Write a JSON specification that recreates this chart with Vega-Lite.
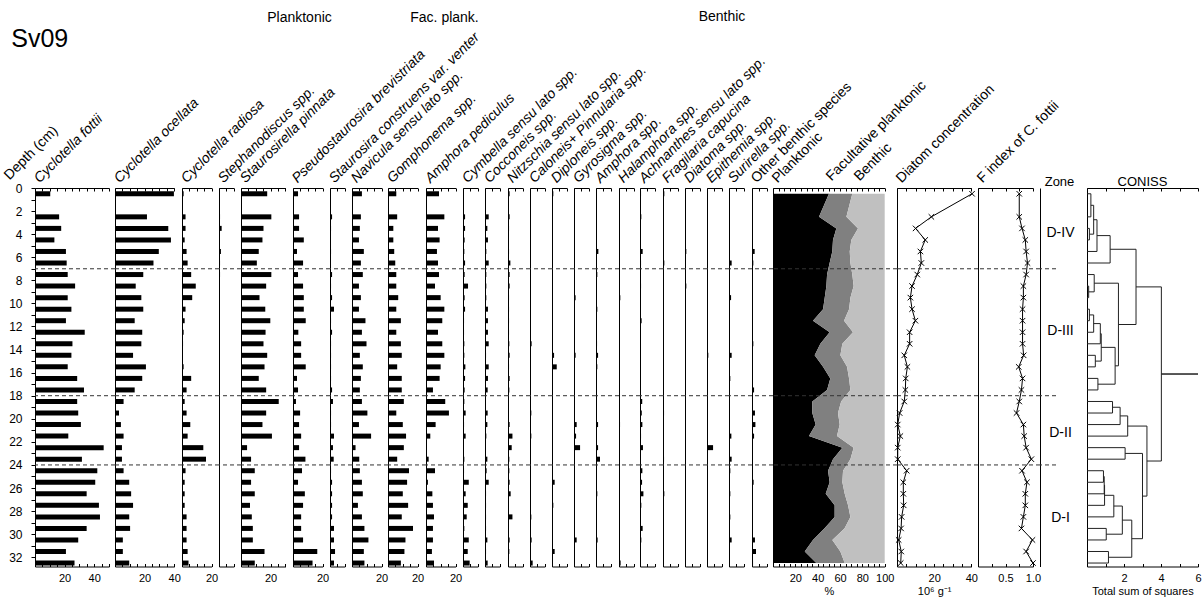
{
"$schema": "https://vega.github.io/schema/vega-lite/v6.json",
"padding": {"left": 1, "top": 9, "right": 0, "bottom": 0},
"bounds": "flush",
"spacing": 0,
"data": {"name": "d"},
"datasets": {
"d": [
{"depth":0.5,"Cf":10.3,"Co":39.8,"Cr":1.1,"St":0,"Sp":17.7,"Pb":3.4,"Sc":0,"Na":6.7,"Go":5.6,"Ap":8.8,"Cy":0,"Cc":0,"Ni":1.1,"Ca":0,"Di":0.9,"Gy":0,"Am":0,"Ha":0,"Ac":0.7,"Fr":0.9,"Dt":0,"Ep":0,"Su":0,"Ob":0,"Planktonic":50.1,"Facultative planktonic":20.9,"Benthic":29,"conc":40.4,"Fi":0.75},
{"depth":2.5,"Cf":16.3,"Co":21.6,"Cr":2.4,"St":0.7,"Sp":20.5,"Pb":4.1,"Sc":1.4,"Na":6,"Go":6.2,"Ap":12.4,"Cy":1.4,"Cc":2.5,"Ni":1.1,"Ca":0,"Di":0.5,"Gy":0.5,"Am":0.5,"Ha":0.5,"Ac":0.9,"Fr":0,"Dt":0,"Ep":0.5,"Su":0,"Ob":0,"Planktonic":41.2,"Facultative planktonic":24.5,"Benthic":34.3,"conc":18.5,"Fi":0.75},
{"depth":3.5,"Cf":17.7,"Co":36,"Cr":2.4,"St":1.8,"Sp":15.2,"Pb":4.1,"Sc":0.7,"Na":5.3,"Go":3.6,"Ap":8.1,"Cy":1.4,"Cc":1.6,"Ni":0.7,"Ca":0,"Di":0,"Gy":0.5,"Am":0.5,"Ha":0,"Ac":0,"Fr":0.5,"Dt":0,"Ep":0.5,"Su":0,"Ob":0,"Planktonic":56.7,"Facultative planktonic":19.4,"Benthic":23.9,"conc":10,"Fi":0.8},
{"depth":4.5,"Cf":13.1,"Co":37.8,"Cr":1.8,"St":0,"Sp":14.5,"Pb":7.3,"Sc":0,"Na":4.7,"Go":3.6,"Ap":9.2,"Cy":1.1,"Cc":2,"Ni":0.5,"Ca":0,"Di":0.5,"Gy":0.5,"Am":0.5,"Ha":0.5,"Ac":0,"Fr":0.5,"Dt":0,"Ep":0.5,"Su":0,"Ob":0.5,"Planktonic":53.7,"Facultative planktonic":16.4,"Benthic":29.9,"conc":15.2,"Fi":0.86},
{"depth":5.5,"Cf":20.9,"Co":29.6,"Cr":3.1,"St":1.3,"Sp":12,"Pb":2.7,"Sc":0.7,"Na":8,"Go":4.2,"Ap":7.4,"Cy":0.9,"Cc":0.9,"Ni":0.7,"Ca":0.5,"Di":0,"Gy":0.5,"Am":1.6,"Ha":0,"Ac":1.8,"Fr":0.5,"Dt":0.9,"Ep":0.5,"Su":0.5,"Ob":1.8,"Planktonic":53.1,"Facultative planktonic":15.6,"Benthic":31.3,"conc":12.6,"Fi":0.875},
{"depth":6.5,"Cf":21.4,"Co":26,"Cr":3.8,"St":0.7,"Sp":10.7,"Pb":6.8,"Sc":0,"Na":6,"Go":4.9,"Ap":8.1,"Cy":1.4,"Cc":2.5,"Ni":1.6,"Ca":0.5,"Di":0,"Gy":0.5,"Am":0.5,"Ha":0,"Ac":0.7,"Fr":0.9,"Dt":0.5,"Ep":0.5,"Su":1.8,"Ob":0.9,"Planktonic":50.7,"Facultative planktonic":18.6,"Benthic":30.7,"conc":13.1,"Fi":0.9},
{"depth":7.5,"Cf":22.1,"Co":19.1,"Cr":6.2,"St":0.7,"Sp":20.5,"Pb":3.4,"Sc":1.4,"Na":7.3,"Go":5.6,"Ap":8.8,"Cy":1.1,"Cc":0.9,"Ni":1.1,"Ca":0.5,"Di":0,"Gy":0,"Am":0.9,"Ha":0,"Ac":0,"Fr":0.5,"Dt":0,"Ep":0.5,"Su":0,"Ob":0.5,"Planktonic":48.4,"Facultative planktonic":22.6,"Benthic":29,"conc":10.9,"Fi":0.875},
{"depth":8.5,"Cf":27.1,"Co":14,"Cr":9.3,"St":0,"Sp":17,"Pb":6.8,"Sc":0.7,"Na":4.7,"Go":5.6,"Ap":6.1,"Cy":3.4,"Cc":0.9,"Ni":1.1,"Ca":0.5,"Di":0,"Gy":0,"Am":0.5,"Ha":0,"Ac":0.7,"Fr":0.5,"Dt":0.9,"Ep":0,"Su":0.5,"Ob":0.5,"Planktonic":47.8,"Facultative planktonic":24.4,"Benthic":27.8,"conc":8.1,"Fi":0.825},
{"depth":9.5,"Cf":22.1,"Co":17.8,"Cr":6.9,"St":0,"Sp":12.5,"Pb":7.3,"Sc":1.4,"Na":6,"Go":6.9,"Ap":9.9,"Cy":1.1,"Cc":0.9,"Ni":0.7,"Ca":0.5,"Di":0,"Gy":1.1,"Am":0.5,"Ha":0.9,"Ac":0,"Fr":0.5,"Dt":0.5,"Ep":0.5,"Su":1.4,"Ob":0.5,"Planktonic":46.3,"Facultative planktonic":23,"Benthic":30.7,"conc":7.2,"Fi":0.825},
{"depth":10.5,"Cf":24.6,"Co":19.1,"Cr":2.4,"St":0,"Sp":16.4,"Pb":7.3,"Sc":2.7,"Na":4.7,"Go":5.6,"Ap":12.4,"Cy":1.4,"Cc":2,"Ni":0.7,"Ca":0.5,"Di":0,"Gy":0.5,"Am":0.9,"Ha":0,"Ac":0,"Fr":0.5,"Dt":0,"Ep":0.5,"Su":0.5,"Ob":0.5,"Planktonic":44.8,"Facultative planktonic":23.3,"Benthic":31.9,"conc":8.1,"Fi":0.81},
{"depth":11.5,"Cf":20.9,"Co":13.3,"Cr":1.8,"St":0,"Sp":19.8,"Pb":8.6,"Sc":0.7,"Na":9.1,"Go":8.7,"Ap":11,"Cy":0.7,"Cc":2,"Ni":0.7,"Ca":0.5,"Di":0.5,"Gy":0.5,"Am":0.5,"Ha":0,"Ac":1.1,"Fr":0.5,"Dt":0,"Ep":0.5,"Su":0.5,"Ob":0.5,"Planktonic":35.8,"Facultative planktonic":27.8,"Benthic":36.4,"conc":9.9,"Fi":0.81},
{"depth":12.5,"Cf":33.6,"Co":18.4,"Cr":1.1,"St":0,"Sp":16.6,"Pb":3.6,"Sc":1.4,"Na":6.7,"Go":5.6,"Ap":8.1,"Cy":0.7,"Cc":2,"Ni":0.7,"Ca":0.5,"Di":0.5,"Gy":0,"Am":0.5,"Ha":0,"Ac":0,"Fr":0.5,"Dt":0,"Ep":0,"Su":0,"Ob":0,"Planktonic":50.7,"Facultative planktonic":20.9,"Benthic":28.4,"conc":6.8,"Fi":0.81},
{"depth":13.5,"Cf":25.3,"Co":17.8,"Cr":0.7,"St":0,"Sp":15.2,"Pb":5.5,"Sc":0.7,"Na":9.8,"Go":8.7,"Ap":11,"Cy":0.9,"Cc":2.5,"Ni":0.9,"Ca":1.1,"Di":0,"Gy":0,"Am":0.7,"Ha":0.3,"Ac":0,"Fr":0,"Dt":0,"Ep":0,"Su":0.5,"Ob":0.9,"Planktonic":42.4,"Facultative planktonic":19.7,"Benthic":37.9,"conc":6.8,"Fi":0.81},
{"depth":14.5,"Cf":24.6,"Co":12.2,"Cr":0.4,"St":0.5,"Sp":17.7,"Pb":5.5,"Sc":0.7,"Na":5.3,"Go":9.3,"Ap":12.4,"Cy":0.9,"Cc":0.7,"Ni":1.1,"Ca":0.5,"Di":1.4,"Gy":1.1,"Am":1.4,"Ha":0,"Ac":0.5,"Fr":0,"Dt":0.5,"Ep":0.9,"Su":1.8,"Ob":0,"Planktonic":37.3,"Facultative planktonic":23,"Benthic":39.7,"conc":3.9,"Fi":0.83},
{"depth":15.5,"Cf":22.1,"Co":20.9,"Cr":1.1,"St":0,"Sp":15.9,"Pb":8.6,"Sc":0.7,"Na":7.3,"Go":6.2,"Ap":9.9,"Cy":1.6,"Cc":2.5,"Ni":0.7,"Ca":0.5,"Di":3.2,"Gy":0.5,"Am":0.9,"Ha":0,"Ac":0.5,"Fr":0,"Dt":0.5,"Ep":0,"Su":0.5,"Ob":0,"Planktonic":44.8,"Facultative planktonic":21.5,"Benthic":33.7,"conc":5.6,"Fi":0.74},
{"depth":16.5,"Cf":28.5,"Co":18.4,"Cr":6.2,"St":0,"Sp":12,"Pb":2.7,"Sc":0.7,"Na":6,"Go":9.3,"Ap":9.2,"Cy":1.4,"Cc":2,"Ni":1.1,"Ca":0.5,"Di":0,"Gy":0.5,"Am":0.5,"Ha":0,"Ac":0.5,"Fr":0,"Dt":0.5,"Ep":0,"Su":0.9,"Ob":0.5,"Planktonic":51.3,"Facultative planktonic":16.8,"Benthic":31.9,"conc":4.7,"Fi":0.81},
{"depth":17.5,"Cf":33.1,"Co":13.3,"Cr":3.1,"St":0.5,"Sp":17,"Pb":3.4,"Sc":1.4,"Na":5.3,"Go":9.3,"Ap":4.7,"Cy":1.1,"Cc":1.8,"Ni":0.9,"Ca":0.5,"Di":0,"Gy":0.5,"Am":0.5,"Ha":0,"Ac":0.5,"Fr":0,"Dt":0,"Ep":0.5,"Su":0.5,"Ob":1.4,"Planktonic":48.4,"Facultative planktonic":20.9,"Benthic":30.7,"conc":4.5,"Fi":0.79},
{"depth":18.5,"Cf":28.5,"Co":5.8,"Cr":1.8,"St":0.5,"Sp":25.5,"Pb":2,"Sc":2,"Na":6.7,"Go":10.7,"Ap":13,"Cy":0.9,"Cc":0,"Ni":0,"Ca":0,"Di":0,"Gy":0.5,"Am":0.5,"Ha":0,"Ac":1.5,"Fr":0.5,"Dt":0,"Ep":0,"Su":0.5,"Ob":0.5,"Planktonic":35.2,"Facultative planktonic":25.8,"Benthic":39,"conc":3.9,"Fi":0.75},
{"depth":19.5,"Cf":29.2,"Co":2.7,"Cr":3.1,"St":0.5,"Sp":17,"Pb":4.8,"Sc":0.7,"Na":10.4,"Go":5.6,"Ap":15.5,"Cy":1.8,"Cc":1.8,"Ni":0.5,"Ca":0.9,"Di":0,"Gy":0.5,"Am":0.5,"Ha":0,"Ac":1.2,"Fr":0.7,"Dt":0,"Ep":0,"Su":0.5,"Ob":2,"Planktonic":35.2,"Facultative planktonic":23,"Benthic":41.8,"conc":1.4,"Fi":0.7},
{"depth":20.5,"Cf":31,"Co":4,"Cr":5.6,"St":0,"Sp":14.5,"Pb":4.1,"Sc":0.7,"Na":4.7,"Go":10,"Ap":6.5,"Cy":0.7,"Cc":1.6,"Ni":1.1,"Ca":0.5,"Di":0.5,"Gy":1.8,"Am":1.4,"Ha":0.7,"Ac":1.6,"Fr":0.5,"Dt":0.5,"Ep":0.5,"Su":0.5,"Ob":2.3,"Planktonic":38.2,"Facultative planktonic":21.5,"Benthic":40.3,"conc":0.4,"Fi":0.825},
{"depth":21.5,"Cf":22.5,"Co":5.8,"Cr":3.8,"St":0,"Sp":20.9,"Pb":5.5,"Sc":2.7,"Na":12.9,"Go":12.2,"Ap":2.9,"Cy":1.8,"Cc":0.9,"Ni":3,"Ca":0.9,"Di":0.5,"Gy":1.4,"Am":0.5,"Ha":0.3,"Ac":0.7,"Fr":0,"Dt":0.5,"Ep":0.5,"Su":1.6,"Ob":1.4,"Planktonic":32.2,"Facultative planktonic":25.1,"Benthic":42.7,"conc":1.8,"Fi":0.84},
{"depth":22.5,"Cf":46.4,"Co":4.7,"Cr":14.4,"St":0,"Sp":4.1,"Pb":4.1,"Sc":2,"Na":2.4,"Go":10.7,"Ap":0,"Cy":0,"Cc":0,"Ni":2.5,"Ca":0,"Di":0,"Gy":4.1,"Am":1.4,"Ha":0,"Ac":2,"Fr":0,"Dt":0,"Ep":4.1,"Su":0,"Ob":0,"Planktonic":62.1,"Facultative planktonic":10.1,"Benthic":27.8,"conc":0.4,"Fi":0.875},
{"depth":23.5,"Cf":31.7,"Co":4.7,"Cr":16.2,"St":0,"Sp":6.8,"Pb":8.4,"Sc":2.5,"Na":4.9,"Go":6.2,"Ap":1.8,"Cy":0.9,"Cc":1.6,"Ni":0.9,"Ca":0.5,"Di":0,"Gy":0.5,"Am":2.7,"Ha":0,"Ac":0.5,"Fr":0.7,"Dt":0.5,"Ep":0.5,"Su":1.8,"Ob":0.5,"Planktonic":53.7,"Facultative planktonic":15.6,"Benthic":30.7,"conc":0.4,"Fi":0.97},
{"depth":24.5,"Cf":42.1,"Co":5.8,"Cr":2.4,"St":0,"Sp":9.3,"Pb":6.1,"Sc":0.7,"Na":5.3,"Go":14.2,"Ap":6.1,"Cy":0.7,"Cc":1.1,"Ni":0.9,"Ca":0.5,"Di":0,"Gy":0.5,"Am":0.5,"Ha":0,"Ac":1.6,"Fr":0.5,"Dt":0,"Ep":0,"Su":0.9,"Ob":0.5,"Planktonic":49.3,"Facultative planktonic":13.4,"Benthic":37.3,"conc":5.2,"Fi":0.8},
{"depth":25.5,"Cf":40.7,"Co":9.6,"Cr":1.8,"St":0,"Sp":6.8,"Pb":3.4,"Sc":1.4,"Na":6.7,"Go":12.9,"Ap":1.3,"Cy":3.9,"Cc":2.5,"Ni":1.1,"Ca":0,"Di":1.8,"Gy":0.5,"Am":0.5,"Ha":0,"Ac":1.4,"Fr":0.5,"Dt":0,"Ep":0.5,"Su":0.5,"Ob":1.1,"Planktonic":50.7,"Facultative planktonic":11.4,"Benthic":37.9,"conc":3.4,"Fi":0.89},
{"depth":26.5,"Cf":34.9,"Co":10.9,"Cr":1.8,"St":0,"Sp":9.3,"Pb":8,"Sc":1.4,"Na":7.3,"Go":10,"Ap":4.3,"Cy":1.8,"Cc":0.7,"Ni":1.8,"Ca":0,"Di":0,"Gy":0.5,"Am":0.9,"Ha":0,"Ac":2.3,"Fr":0.9,"Dt":0,"Ep":0,"Su":0.9,"Ob":0.5,"Planktonic":47.2,"Facultative planktonic":17,"Benthic":35.8,"conc":3.4,"Fi":0.86},
{"depth":27.5,"Cf":43.2,"Co":12.2,"Cr":1.8,"St":0,"Sp":6.1,"Pb":6.8,"Sc":1.4,"Na":4,"Go":13.6,"Ap":4.7,"Cy":3.2,"Cc":0.7,"Ni":0.5,"Ca":0,"Di":0.9,"Gy":0.5,"Am":0.5,"Ha":0,"Ac":0.9,"Fr":0.5,"Dt":0,"Ep":0.5,"Su":0,"Ob":0.5,"Planktonic":55.2,"Facultative planktonic":12,"Benthic":32.8,"conc":3.6,"Fi":0.86},
{"depth":28.5,"Cf":43.9,"Co":9.6,"Cr":3.1,"St":0,"Sp":7.3,"Pb":5.5,"Sc":1.4,"Na":6.7,"Go":9.3,"Ap":5.4,"Cy":2.5,"Cc":0.7,"Ni":3,"Ca":0.9,"Di":0,"Gy":0.5,"Am":0.5,"Ha":0,"Ac":0.5,"Fr":0.5,"Dt":0,"Ep":0,"Su":0.9,"Ob":0.5,"Planktonic":55.2,"Facultative planktonic":14.1,"Benthic":30.7,"conc":2.5,"Fi":0.825},
{"depth":29.5,"Cf":34.9,"Co":10.2,"Cr":3.1,"St":0,"Sp":8,"Pb":5.5,"Sc":2.7,"Na":8.4,"Go":16.9,"Ap":4.7,"Cy":0.9,"Cc":0.7,"Ni":0.5,"Ca":0,"Di":0,"Gy":0.5,"Am":0.5,"Ha":0,"Ac":1.8,"Fr":0.5,"Dt":0,"Ep":0,"Su":0.5,"Ob":0.5,"Planktonic":46,"Facultative planktonic":18,"Benthic":36,"conc":2.2,"Fi":0.79},
{"depth":30.5,"Cf":29.2,"Co":5.3,"Cr":3.1,"St":0,"Sp":8,"Pb":6.8,"Sc":2.7,"Na":11.1,"Go":11.8,"Ap":4.7,"Cy":3.9,"Cc":1.6,"Ni":1.1,"Ca":1.1,"Di":0.5,"Gy":1.8,"Am":1.1,"Ha":0,"Ac":0.9,"Fr":0.5,"Dt":0,"Ep":0,"Su":1.8,"Ob":2,"Planktonic":35.8,"Facultative planktonic":17.3,"Benthic":46.9,"conc":0.9,"Fi":0.99},
{"depth":31.5,"Cf":20.9,"Co":5.3,"Cr":3.8,"St":0,"Sp":15.9,"Pb":16.4,"Sc":3.4,"Na":8,"Go":11.1,"Ap":4,"Cy":3.2,"Cc":0.7,"Ni":0.9,"Ca":0,"Di":1.8,"Gy":0.5,"Am":0.5,"Ha":0.3,"Ac":0.5,"Fr":0.5,"Dt":0,"Ep":0,"Su":0,"Ob":2.7,"Planktonic":28.4,"Facultative planktonic":31.9,"Benthic":39.7,"conc":2.3,"Fi":0.875},
{"depth":32.5,"Cf":26.7,"Co":9.6,"Cr":4.4,"St":0,"Sp":9.3,"Pb":13.2,"Sc":2.7,"Na":8.4,"Go":8.7,"Ap":5.4,"Cy":4.5,"Cc":1.8,"Ni":0,"Ca":1.8,"Di":0,"Gy":0.5,"Am":0.5,"Ha":1.1,"Ac":0.5,"Fr":0.5,"Dt":0,"Ep":0.5,"Su":0,"Ob":0.7,"Planktonic":38.8,"Facultative planktonic":25.4,"Benthic":35.8,"conc":2,"Fi":1.0}
],
"zones": [{"depth":7},{"depth":18},{"depth":24}],
"zonelabels": [{"zone":"D-IV","depth":3.9},{"zone":"D-III","depth":12.4},{"zone":"D-II","depth":21.2},{"zone":"D-I","depth":28.6}],
"coniss": [
{"h":0.21,"p1":0.5,"p2":2.5,"h1":0,"h2":0},
{"h":0.13,"p1":3.5,"p2":4.5,"h1":0,"h2":0},
{"h":0.36,"p1":1.5,"p2":4.0,"h1":0.21,"h2":0.13},
{"h":0.54,"p1":2.75,"p2":5.5,"h1":0.36,"h2":0},
{"h":1.25,"p1":4.125,"p2":6.5,"h1":0.54,"h2":0},
{"h":0.09,"p1":8.5,"p2":9.5,"h1":0,"h2":0},
{"h":0.39,"p1":7.5,"p2":9.0,"h1":0,"h2":0.09},
{"h":0.13,"p1":10.5,"p2":11.5,"h1":0,"h2":0},
{"h":0.36,"p1":11.0,"p2":12.5,"h1":0.13,"h2":0},
{"h":0.72,"p1":11.75,"p2":13.5,"h1":0.36,"h2":0},
{"h":0.45,"p1":14.5,"p2":15.5,"h1":0,"h2":0},
{"h":0.77,"p1":12.625,"p2":15.0,"h1":0.72,"h2":0.45},
{"h":0.59,"p1":16.5,"p2":17.5,"h1":0,"h2":0},
{"h":1.52,"p1":13.81,"p2":17.0,"h1":0.77,"h2":0.59},
{"h":1.7,"p1":8.25,"p2":15.41,"h1":0.39,"h2":1.52},
{"h":2.65,"p1":5.31,"p2":11.83,"h1":1.25,"h2":1.7},
{"h":1.38,"p1":18.5,"p2":19.5,"h1":0,"h2":0},
{"h":1.79,"p1":19.0,"p2":20.5,"h1":1.38,"h2":0},
{"h":2.2,"p1":19.75,"p2":21.5,"h1":1.79,"h2":0},
{"h":2.06,"p1":22.5,"p2":23.5,"h1":0,"h2":0},
{"h":0.89,"p1":24.5,"p2":25.5,"h1":0,"h2":0},
{"h":0.93,"p1":25.0,"p2":26.5,"h1":0.89,"h2":0},
{"h":0.95,"p1":25.75,"p2":27.5,"h1":0.93,"h2":0},
{"h":1.45,"p1":26.63,"p2":28.5,"h1":0.95,"h2":0},
{"h":1.04,"p1":29.5,"p2":30.5,"h1":0,"h2":0},
{"h":1.91,"p1":27.56,"p2":30.0,"h1":1.45,"h2":1.04},
{"h":1.16,"p1":31.5,"p2":32.5,"h1":0,"h2":0},
{"h":2.42,"p1":28.78,"p2":32.0,"h1":1.91,"h2":1.16},
{"h":3.0,"p1":23.0,"p2":30.39,"h1":2.06,"h2":2.42},
{"h":3.24,"p1":20.63,"p2":26.7,"h1":2.2,"h2":3.0},
{"h":4.02,"p1":8.57,"p2":23.66,"h1":2.65,"h2":3.24},
{"h":6.0,"p1":16.12,"p2":16.12,"h1":4.02,"h2":4.02}
]
},
"hconcat": [
{"width":80,"height":378.5,
 "title":{"text":"Sv09","anchor":"start","frame":"bounds","fontSize":25,"dx":10,"dy":-55},
 "encoding":{"y":{"field":"depth","type":"quantitative","title":null,"scale":{"domain":[0,32.8],"reverse":true,"nice":false,"zero":false,"padding":0},
   "axis":{"title":"Depth (cm)","labels":true,"ticks":true,"tickSize":4,"labelPadding":9,"values":[0,1,2,3,4,5,6,7,8,9,10,11,12,13,14,15,16,17,18,19,20,21,22,23,24,25,26,27,28,29,30,31,32],"labelExpr":"datum.value % 2 == 0 ? datum.label : ''","labelFontSize":12,"titleAngle":-45,"titleAlign":"left","titleBaseline":"alphabetic","titleX":-26,"titleY":-8,"titleFontSize":14}}},
 "layer":[
  {"mark":{"type":"bar","orient":"horizontal","size":5,"color":"#000"},
   "encoding":{"x":{"field":"Cf","type":"quantitative","title":null,"scale":{"domain":[0,50],"range":[0,74]},"axis":{"orient":"bottom","values":[0,5,10,15,20,25,30,35,40,45,50]}}}},
  {"transform":[{"filter":"false"}],"mark":{"type":"bar","orient":"horizontal"},
   "encoding":{"x":{"field":"Cf","type":"quantitative","axis":{"orient":"top","title":"Cyclotella fottii","values":[0,5,10,15,20,25,30,35,40,45,50]}}}},
  {"data":{"name":"zones"},"mark":{"type":"rule","strokeDash":[4,3],"color":"#333"},"encoding":{}}
 ],
 "resolve":{"axis":{"x":"independent"}}},
{"width":67,"height":378.5,
 "encoding":{"y":{"field":"depth","type":"quantitative","title":null,"scale":{"domain":[0,32.8],"reverse":true,"nice":false,"zero":false,"padding":0}}},
 "layer":[
  {"mark":{"type":"bar","orient":"horizontal","size":5,"color":"#000"},
   "encoding":{"x":{"field":"Co","type":"quantitative","title":null,"scale":{"domain":[0,40],"range":[0,59.2]},"axis":{"orient":"bottom","values":[0,5,10,15,20,25,30,35,40]}}}},
  {"transform":[{"filter":"false"}],"mark":{"type":"bar","orient":"horizontal"},
   "encoding":{"x":{"field":"Co","type":"quantitative","axis":{"orient":"top","title":"Cyclotella ocellata","values":[0,5,10,15,20,25,30,35,40]}}}},
  {"data":{"name":"zones"},"mark":{"type":"rule","strokeDash":[4,3],"color":"#333"},"encoding":{}}
 ],
 "resolve":{"axis":{"x":"independent"}}},
{"width":37,"height":378.5,
 "encoding":{"y":{"field":"depth","type":"quantitative","title":null,"scale":{"domain":[0,32.8],"reverse":true,"nice":false,"zero":false,"padding":0}}},
 "layer":[
  {"mark":{"type":"bar","orient":"horizontal","size":5,"color":"#000"},
   "encoding":{"x":{"field":"Cr","type":"quantitative","title":null,"scale":{"domain":[0,20],"range":[0,29.6]},"axis":{"orient":"bottom","values":[0,5,10,15,20]}}}},
  {"transform":[{"filter":"false"}],"mark":{"type":"bar","orient":"horizontal"},
   "encoding":{"x":{"field":"Cr","type":"quantitative","axis":{"orient":"top","title":"Cyclotella radiosa","values":[0,5,10,15,20]}}}},
  {"data":{"name":"zones"},"mark":{"type":"rule","strokeDash":[4,3],"color":"#333"},"encoding":{}}
 ],
 "resolve":{"axis":{"x":"independent"}}},
{"width":22,"height":378.5,
 "encoding":{"y":{"field":"depth","type":"quantitative","title":null,"scale":{"domain":[0,32.8],"reverse":true,"nice":false,"zero":false,"padding":0}}},
 "layer":[
  {"mark":{"type":"bar","orient":"horizontal","size":5,"color":"#000"},
   "encoding":{"x":{"field":"St","type":"quantitative","title":null,"scale":{"domain":[0,10],"range":[0,14.8]},"axis":{"orient":"bottom","values":[0,5,10]}}}},
  {"transform":[{"filter":"false"}],"mark":{"type":"bar","orient":"horizontal"},
   "encoding":{"x":{"field":"St","type":"quantitative","axis":{"orient":"top","title":"Stephanodiscus spp.","values":[0,5,10]}}}},
  {"data":{"name":"zones"},"mark":{"type":"rule","strokeDash":[4,3],"color":"#333"},"encoding":{}}
 ],
 "resolve":{"axis":{"x":"independent"}}},
{"width":52,"height":378.5,
 "encoding":{"y":{"field":"depth","type":"quantitative","title":null,"scale":{"domain":[0,32.8],"reverse":true,"nice":false,"zero":false,"padding":0}}},
 "layer":[
  {"mark":{"type":"bar","orient":"horizontal","size":5,"color":"#000"},
   "encoding":{"x":{"field":"Sp","type":"quantitative","title":null,"scale":{"domain":[0,30],"range":[0,44.4]},"axis":{"orient":"bottom","values":[0,5,10,15,20,25,30]}}}},
  {"transform":[{"filter":"false"}],"mark":{"type":"bar","orient":"horizontal"},
   "encoding":{"x":{"field":"Sp","type":"quantitative","axis":{"orient":"top","title":"Staurosirella pinnata","values":[0,5,10,15,20,25,30]}}}},
  {"data":{"name":"zones"},"mark":{"type":"rule","strokeDash":[4,3],"color":"#333"},"encoding":{}}
 ],
 "resolve":{"axis":{"x":"independent"}}},
{"width":37,"height":378.5,
 "title":{"text":"Planktonic","anchor":"middle","frame":"group","fontSize":14,"dx":-12,"dy":-18},
 "encoding":{"y":{"field":"depth","type":"quantitative","title":null,"scale":{"domain":[0,32.8],"reverse":true,"nice":false,"zero":false,"padding":0}}},
 "layer":[
  {"mark":{"type":"bar","orient":"horizontal","size":5,"color":"#000"},
   "encoding":{"x":{"field":"Pb","type":"quantitative","title":null,"scale":{"domain":[0,20],"range":[0,29.6]},"axis":{"orient":"bottom","values":[0,5,10,15,20]}}}},
  {"transform":[{"filter":"false"}],"mark":{"type":"bar","orient":"horizontal"},
   "encoding":{"x":{"field":"Pb","type":"quantitative","axis":{"orient":"top","title":"Pseudostaurosira brevistriata","values":[0,5,10,15,20]}}}},
  {"data":{"name":"zones"},"mark":{"type":"rule","strokeDash":[4,3],"color":"#333"},"encoding":{}}
 ],
 "resolve":{"axis":{"x":"independent"}}},
{"width":22,"height":378.5,
 "encoding":{"y":{"field":"depth","type":"quantitative","title":null,"scale":{"domain":[0,32.8],"reverse":true,"nice":false,"zero":false,"padding":0}}},
 "layer":[
  {"mark":{"type":"bar","orient":"horizontal","size":5,"color":"#000"},
   "encoding":{"x":{"field":"Sc","type":"quantitative","title":null,"scale":{"domain":[0,10],"range":[0,14.8]},"axis":{"orient":"bottom","values":[0,5,10]}}}},
  {"transform":[{"filter":"false"}],"mark":{"type":"bar","orient":"horizontal"},
   "encoding":{"x":{"field":"Sc","type":"quantitative","axis":{"orient":"top","title":"Staurosira construens var. venter","values":[0,5,10]}}}},
  {"data":{"name":"zones"},"mark":{"type":"rule","strokeDash":[4,3],"color":"#333"},"encoding":{}}
 ],
 "resolve":{"axis":{"x":"independent"}}},
{"width":36,"height":378.5,
 "encoding":{"y":{"field":"depth","type":"quantitative","title":null,"scale":{"domain":[0,32.8],"reverse":true,"nice":false,"zero":false,"padding":0}}},
 "layer":[
  {"mark":{"type":"bar","orient":"horizontal","size":5,"color":"#000"},
   "encoding":{"x":{"field":"Na","type":"quantitative","title":null,"scale":{"domain":[0,20],"range":[0,29.6]},"axis":{"orient":"bottom","values":[0,5,10,15,20]}}}},
  {"transform":[{"filter":"false"}],"mark":{"type":"bar","orient":"horizontal"},
   "encoding":{"x":{"field":"Na","type":"quantitative","axis":{"orient":"top","title":"Navicula sensu lato spp.","values":[0,5,10,15,20]}}}},
  {"data":{"name":"zones"},"mark":{"type":"rule","strokeDash":[4,3],"color":"#333"},"encoding":{}}
 ],
 "resolve":{"axis":{"x":"independent"}}},
{"width":38,"height":378.5,
 "encoding":{"y":{"field":"depth","type":"quantitative","title":null,"scale":{"domain":[0,32.8],"reverse":true,"nice":false,"zero":false,"padding":0}}},
 "layer":[
  {"mark":{"type":"bar","orient":"horizontal","size":5,"color":"#000"},
   "encoding":{"x":{"field":"Go","type":"quantitative","title":null,"scale":{"domain":[0,20],"range":[0,29.6]},"axis":{"orient":"bottom","values":[0,5,10,15,20]}}}},
  {"transform":[{"filter":"false"}],"mark":{"type":"bar","orient":"horizontal"},
   "encoding":{"x":{"field":"Go","type":"quantitative","axis":{"orient":"top","title":"Gomphonema spp.","values":[0,5,10,15,20]}}}},
  {"data":{"name":"zones"},"mark":{"type":"rule","strokeDash":[4,3],"color":"#333"},"encoding":{}}
 ],
 "resolve":{"axis":{"x":"independent"}}},
{"width":37,"height":378.5,
 "title":{"text":"Fac. plank.","anchor":"middle","frame":"group","fontSize":14,"dx":0,"dy":-61},
 "encoding":{"y":{"field":"depth","type":"quantitative","title":null,"scale":{"domain":[0,32.8],"reverse":true,"nice":false,"zero":false,"padding":0}}},
 "layer":[
  {"mark":{"type":"bar","orient":"horizontal","size":5,"color":"#000"},
   "encoding":{"x":{"field":"Ap","type":"quantitative","title":null,"scale":{"domain":[0,20],"range":[0,29.6]},"axis":{"orient":"bottom","values":[0,5,10,15,20]}}}},
  {"transform":[{"filter":"false"}],"mark":{"type":"bar","orient":"horizontal"},
   "encoding":{"x":{"field":"Ap","type":"quantitative","axis":{"orient":"top","title":"Amphora pediculus","values":[0,5,10,15,20]}}}},
  {"data":{"name":"zones"},"mark":{"type":"rule","strokeDash":[4,3],"color":"#333"},"encoding":{}}
 ],
 "resolve":{"axis":{"x":"independent"}}},
{"width":22,"height":378.5,
 "encoding":{"y":{"field":"depth","type":"quantitative","title":null,"scale":{"domain":[0,32.8],"reverse":true,"nice":false,"zero":false,"padding":0}}},
 "layer":[
  {"mark":{"type":"bar","orient":"horizontal","size":5,"color":"#000"},
   "encoding":{"x":{"field":"Cy","type":"quantitative","title":null,"scale":{"domain":[0,10],"range":[0,14.8]},"axis":{"orient":"bottom","values":[0,5,10]}}}},
  {"transform":[{"filter":"false"}],"mark":{"type":"bar","orient":"horizontal"},
   "encoding":{"x":{"field":"Cy","type":"quantitative","axis":{"orient":"top","title":"Cymbella sensu lato spp.","values":[0,5,10]}}}},
  {"data":{"name":"zones"},"mark":{"type":"rule","strokeDash":[4,3],"color":"#333"},"encoding":{}}
 ],
 "resolve":{"axis":{"x":"independent"}}},
{"width":23,"height":378.5,
 "encoding":{"y":{"field":"depth","type":"quantitative","title":null,"scale":{"domain":[0,32.8],"reverse":true,"nice":false,"zero":false,"padding":0}}},
 "layer":[
  {"mark":{"type":"bar","orient":"horizontal","size":5,"color":"#000"},
   "encoding":{"x":{"field":"Cc","type":"quantitative","title":null,"scale":{"domain":[0,10],"range":[0,14.8]},"axis":{"orient":"bottom","values":[0,5,10]}}}},
  {"transform":[{"filter":"false"}],"mark":{"type":"bar","orient":"horizontal"},
   "encoding":{"x":{"field":"Cc","type":"quantitative","axis":{"orient":"top","title":"Cocconeis spp.","values":[0,5,10]}}}},
  {"data":{"name":"zones"},"mark":{"type":"rule","strokeDash":[4,3],"color":"#333"},"encoding":{}}
 ],
 "resolve":{"axis":{"x":"independent"}}},
{"width":22,"height":378.5,
 "encoding":{"y":{"field":"depth","type":"quantitative","title":null,"scale":{"domain":[0,32.8],"reverse":true,"nice":false,"zero":false,"padding":0}}},
 "layer":[
  {"mark":{"type":"bar","orient":"horizontal","size":5,"color":"#000"},
   "encoding":{"x":{"field":"Ni","type":"quantitative","title":null,"scale":{"domain":[0,10],"range":[0,14.8]},"axis":{"orient":"bottom","values":[0,5,10]}}}},
  {"transform":[{"filter":"false"}],"mark":{"type":"bar","orient":"horizontal"},
   "encoding":{"x":{"field":"Ni","type":"quantitative","axis":{"orient":"top","title":"Nitzschia sensu lato spp.","values":[0,5,10]}}}},
  {"data":{"name":"zones"},"mark":{"type":"rule","strokeDash":[4,3],"color":"#333"},"encoding":{}}
 ],
 "resolve":{"axis":{"x":"independent"}}},
{"width":22,"height":378.5,
 "encoding":{"y":{"field":"depth","type":"quantitative","title":null,"scale":{"domain":[0,32.8],"reverse":true,"nice":false,"zero":false,"padding":0}}},
 "layer":[
  {"mark":{"type":"bar","orient":"horizontal","size":5,"color":"#000"},
   "encoding":{"x":{"field":"Ca","type":"quantitative","title":null,"scale":{"domain":[0,10],"range":[0,14.8]},"axis":{"orient":"bottom","values":[0,5,10]}}}},
  {"transform":[{"filter":"false"}],"mark":{"type":"bar","orient":"horizontal"},
   "encoding":{"x":{"field":"Ca","type":"quantitative","axis":{"orient":"top","title":"Caloneis+ Pinnularia spp.","values":[0,5,10]}}}},
  {"data":{"name":"zones"},"mark":{"type":"rule","strokeDash":[4,3],"color":"#333"},"encoding":{}}
 ],
 "resolve":{"axis":{"x":"independent"}}},
{"width":22,"height":378.5,
 "encoding":{"y":{"field":"depth","type":"quantitative","title":null,"scale":{"domain":[0,32.8],"reverse":true,"nice":false,"zero":false,"padding":0}}},
 "layer":[
  {"mark":{"type":"bar","orient":"horizontal","size":5,"color":"#000"},
   "encoding":{"x":{"field":"Di","type":"quantitative","title":null,"scale":{"domain":[0,10],"range":[0,14.8]},"axis":{"orient":"bottom","values":[0,5,10]}}}},
  {"transform":[{"filter":"false"}],"mark":{"type":"bar","orient":"horizontal"},
   "encoding":{"x":{"field":"Di","type":"quantitative","axis":{"orient":"top","title":"Diploneis spp.","values":[0,5,10]}}}},
  {"data":{"name":"zones"},"mark":{"type":"rule","strokeDash":[4,3],"color":"#333"},"encoding":{}}
 ],
 "resolve":{"axis":{"x":"independent"}}},
{"width":22,"height":378.5,
 "encoding":{"y":{"field":"depth","type":"quantitative","title":null,"scale":{"domain":[0,32.8],"reverse":true,"nice":false,"zero":false,"padding":0}}},
 "layer":[
  {"mark":{"type":"bar","orient":"horizontal","size":5,"color":"#000"},
   "encoding":{"x":{"field":"Gy","type":"quantitative","title":null,"scale":{"domain":[0,10],"range":[0,14.8]},"axis":{"orient":"bottom","values":[0,5,10]}}}},
  {"transform":[{"filter":"false"}],"mark":{"type":"bar","orient":"horizontal"},
   "encoding":{"x":{"field":"Gy","type":"quantitative","axis":{"orient":"top","title":"Gyrosigma spp.","values":[0,5,10]}}}},
  {"data":{"name":"zones"},"mark":{"type":"rule","strokeDash":[4,3],"color":"#333"},"encoding":{}}
 ],
 "resolve":{"axis":{"x":"independent"}}},
{"width":23,"height":378.5,
 "encoding":{"y":{"field":"depth","type":"quantitative","title":null,"scale":{"domain":[0,32.8],"reverse":true,"nice":false,"zero":false,"padding":0}}},
 "layer":[
  {"mark":{"type":"bar","orient":"horizontal","size":5,"color":"#000"},
   "encoding":{"x":{"field":"Am","type":"quantitative","title":null,"scale":{"domain":[0,10],"range":[0,14.8]},"axis":{"orient":"bottom","values":[0,5,10]}}}},
  {"transform":[{"filter":"false"}],"mark":{"type":"bar","orient":"horizontal"},
   "encoding":{"x":{"field":"Am","type":"quantitative","axis":{"orient":"top","title":"Amphora spp.","values":[0,5,10]}}}},
  {"data":{"name":"zones"},"mark":{"type":"rule","strokeDash":[4,3],"color":"#333"},"encoding":{}}
 ],
 "resolve":{"axis":{"x":"independent"}}},
{"width":21,"height":378.5,
 "encoding":{"y":{"field":"depth","type":"quantitative","title":null,"scale":{"domain":[0,32.8],"reverse":true,"nice":false,"zero":false,"padding":0}}},
 "layer":[
  {"mark":{"type":"bar","orient":"horizontal","size":5,"color":"#000"},
   "encoding":{"x":{"field":"Ha","type":"quantitative","title":null,"scale":{"domain":[0,10],"range":[0,14.8]},"axis":{"orient":"bottom","values":[0,5,10]}}}},
  {"transform":[{"filter":"false"}],"mark":{"type":"bar","orient":"horizontal"},
   "encoding":{"x":{"field":"Ha","type":"quantitative","axis":{"orient":"top","title":"Halamphora spp.","values":[0,5,10]}}}},
  {"data":{"name":"zones"},"mark":{"type":"rule","strokeDash":[4,3],"color":"#333"},"encoding":{}}
 ],
 "resolve":{"axis":{"x":"independent"}}},
{"width":23,"height":378.5,
 "encoding":{"y":{"field":"depth","type":"quantitative","title":null,"scale":{"domain":[0,32.8],"reverse":true,"nice":false,"zero":false,"padding":0}}},
 "layer":[
  {"mark":{"type":"bar","orient":"horizontal","size":5,"color":"#000"},
   "encoding":{"x":{"field":"Ac","type":"quantitative","title":null,"scale":{"domain":[0,10],"range":[0,14.8]},"axis":{"orient":"bottom","values":[0,5,10]}}}},
  {"transform":[{"filter":"false"}],"mark":{"type":"bar","orient":"horizontal"},
   "encoding":{"x":{"field":"Ac","type":"quantitative","axis":{"orient":"top","title":"Achnanthes sensu lato spp.","values":[0,5,10]}}}},
  {"data":{"name":"zones"},"mark":{"type":"rule","strokeDash":[4,3],"color":"#333"},"encoding":{}}
 ],
 "resolve":{"axis":{"x":"independent"}}},
{"width":22,"height":378.5,
 "encoding":{"y":{"field":"depth","type":"quantitative","title":null,"scale":{"domain":[0,32.8],"reverse":true,"nice":false,"zero":false,"padding":0}}},
 "layer":[
  {"mark":{"type":"bar","orient":"horizontal","size":5,"color":"#000"},
   "encoding":{"x":{"field":"Fr","type":"quantitative","title":null,"scale":{"domain":[0,10],"range":[0,14.8]},"axis":{"orient":"bottom","values":[0,5,10]}}}},
  {"transform":[{"filter":"false"}],"mark":{"type":"bar","orient":"horizontal"},
   "encoding":{"x":{"field":"Fr","type":"quantitative","axis":{"orient":"top","title":"Fragilaria capucina","values":[0,5,10]}}}},
  {"data":{"name":"zones"},"mark":{"type":"rule","strokeDash":[4,3],"color":"#333"},"encoding":{}}
 ],
 "resolve":{"axis":{"x":"independent"}}},
{"width":22,"height":378.5,
 "encoding":{"y":{"field":"depth","type":"quantitative","title":null,"scale":{"domain":[0,32.8],"reverse":true,"nice":false,"zero":false,"padding":0}}},
 "layer":[
  {"mark":{"type":"bar","orient":"horizontal","size":5,"color":"#000"},
   "encoding":{"x":{"field":"Dt","type":"quantitative","title":null,"scale":{"domain":[0,10],"range":[0,14.8]},"axis":{"orient":"bottom","values":[0,5,10]}}}},
  {"transform":[{"filter":"false"}],"mark":{"type":"bar","orient":"horizontal"},
   "encoding":{"x":{"field":"Dt","type":"quantitative","axis":{"orient":"top","title":"Diatoma spp.","values":[0,5,10]}}}},
  {"data":{"name":"zones"},"mark":{"type":"rule","strokeDash":[4,3],"color":"#333"},"encoding":{}}
 ],
 "resolve":{"axis":{"x":"independent"}}},
{"width":22,"height":378.5,
 "title":{"text":"Benthic","anchor":"middle","frame":"group","fontSize":14,"dx":4,"dy":-82},
 "encoding":{"y":{"field":"depth","type":"quantitative","title":null,"scale":{"domain":[0,32.8],"reverse":true,"nice":false,"zero":false,"padding":0}}},
 "layer":[
  {"mark":{"type":"bar","orient":"horizontal","size":5,"color":"#000"},
   "encoding":{"x":{"field":"Ep","type":"quantitative","title":null,"scale":{"domain":[0,10],"range":[0,14.8]},"axis":{"orient":"bottom","values":[0,5,10]}}}},
  {"transform":[{"filter":"false"}],"mark":{"type":"bar","orient":"horizontal"},
   "encoding":{"x":{"field":"Ep","type":"quantitative","axis":{"orient":"top","title":"Epithemia spp.","values":[0,5,10]}}}},
  {"data":{"name":"zones"},"mark":{"type":"rule","strokeDash":[4,3],"color":"#333"},"encoding":{}}
 ],
 "resolve":{"axis":{"x":"independent"}}},
{"width":23,"height":378.5,
 "encoding":{"y":{"field":"depth","type":"quantitative","title":null,"scale":{"domain":[0,32.8],"reverse":true,"nice":false,"zero":false,"padding":0}}},
 "layer":[
  {"mark":{"type":"bar","orient":"horizontal","size":5,"color":"#000"},
   "encoding":{"x":{"field":"Su","type":"quantitative","title":null,"scale":{"domain":[0,10],"range":[0,14.8]},"axis":{"orient":"bottom","values":[0,5,10]}}}},
  {"transform":[{"filter":"false"}],"mark":{"type":"bar","orient":"horizontal"},
   "encoding":{"x":{"field":"Su","type":"quantitative","axis":{"orient":"top","title":"Surirella spp.","values":[0,5,10]}}}},
  {"data":{"name":"zones"},"mark":{"type":"rule","strokeDash":[4,3],"color":"#333"},"encoding":{}}
 ],
 "resolve":{"axis":{"x":"independent"}}},
{"width":21,"height":378.5,
 "encoding":{"y":{"field":"depth","type":"quantitative","title":null,"scale":{"domain":[0,32.8],"reverse":true,"nice":false,"zero":false,"padding":0}}},
 "layer":[
  {"mark":{"type":"bar","orient":"horizontal","size":5,"color":"#000"},
   "encoding":{"x":{"field":"Ob","type":"quantitative","title":null,"scale":{"domain":[0,10],"range":[0,14.8]},"axis":{"orient":"bottom","values":[0,5,10]}}}},
  {"transform":[{"filter":"false"}],"mark":{"type":"bar","orient":"horizontal"},
   "encoding":{"x":{"field":"Ob","type":"quantitative","axis":{"orient":"top","title":"Other benthic species","titleFontStyle":"normal","values":[0,5,10]}}}},
  {"data":{"name":"zones"},"mark":{"type":"rule","strokeDash":[4,3],"color":"#333"},"encoding":{}}
 ],
 "resolve":{"axis":{"x":"independent"}}},
{"width":124,"height":378.5,
 "layer":[
  {"transform":[{"fold":["Planktonic","Facultative planktonic","Benthic"],"as":["group","pct"]}],
   "mark":{"type":"area","orient":"horizontal"},
   "encoding":{
    "y":{"field":"depth","type":"quantitative","title":null,"scale":{"domain":[0,32.8],"reverse":true,"nice":false,"zero":false,"padding":0},
      "axis":{"title":"Benthic","titleAngle":-45,"titleAlign":"left","titleBaseline":"alphabetic","titleX":86,"titleY":-7,"titleFontSize":14}},
    "x":{"field":"pct","type":"quantitative","stack":"zero","title":"%","scale":{"domain":[0,100],"range":[0,111.7]},"axis":{"orient":"bottom","values":[0,5,10,15,20,25,30,35,40,45,50,55,60,65,70,75,80,85,90,95,100]}},
    "color":{"field":"group","type":"nominal","scale":{"domain":["Planktonic","Facultative planktonic","Benthic"],"range":["#000000","#808080","#c0c0c0"]},"legend":null},
    "order":{"field":"group","sort":"descending"}}},
  {"transform":[{"filter":"false"}],"mark":{"type":"bar","orient":"horizontal"},
   "encoding":{"y":{"field":"depth","type":"quantitative","title":null,"axis":null},
    "x":{"field":"Planktonic","type":"quantitative","axis":{"orient":"top","title":"Planktonic","titleFontStyle":"normal","values":[0,5,10,15,20,25,30,35,40,45,50,55,60,65,70,75,80,85,90,95,100]}}}},
  {"data":{"name":"zones"},"mark":{"type":"rule","strokeDash":[4,3],"color":"#333"},
   "encoding":{"y":{"field":"depth","type":"quantitative","title":null,
    "axis":{"orient":"right","title":"Facultative planktonic","titleAngle":-45,"titleAlign":"left","titleBaseline":"alphabetic","titleX":-66,"titleY":-7,"titleFontSize":14}}}}
 ],
 "resolve":{"axis":{"x":"independent","y":"independent"}}},
{"width":81,"height":378.5,
 "encoding":{"y":{"field":"depth","type":"quantitative","title":null,"scale":{"domain":[0,32.8],"reverse":true,"nice":false,"zero":false,"padding":0}}},
 "layer":[
  {"mark":{"type":"line","color":"#000","strokeWidth":1},
   "encoding":{"x":{"field":"conc","type":"quantitative","title":"10⁶ g⁻¹","scale":{"domain":[0,40],"range":[0,74.3]},"axis":{"orient":"bottom","values":[0,5,10,15,20,25,30,35,40]}},
    "order":{"field":"depth","type":"quantitative"}}},
  {"mark":{"type":"point","shape":"M-1,-1L1,1M1,-1L-1,1","size":30,"color":"#000","filled":false,"strokeWidth":1,"opacity":1},
   "encoding":{"x":{"field":"conc","type":"quantitative","axis":null}}},
  {"transform":[{"filter":"false"}],"mark":{"type":"bar","orient":"horizontal"},
   "encoding":{"x":{"field":"conc","type":"quantitative","axis":{"orient":"top","title":"Diatom concentration","titleFontStyle":"normal","values":[0,5,10,15,20,25,30,35,40]}}}},
  {"data":{"name":"zones"},"mark":{"type":"rule","strokeDash":[4,3],"color":"#333"},"encoding":{}}
 ],
 "resolve":{"axis":{"x":"independent"}}},
{"width":62,"height":378.5,
 "encoding":{"y":{"field":"depth","type":"quantitative","title":null,"scale":{"domain":[0,32.8],"reverse":true,"nice":false,"zero":false,"padding":0}}},
 "layer":[
  {"mark":{"type":"line","color":"#000","strokeWidth":1},
   "encoding":{"x":{"field":"Fi","type":"quantitative","title":null,"scale":{"domain":[0,1],"range":[0,55]},"axis":{"orient":"bottom","values":[0,0.25,0.5,0.75,1],"labelExpr":"datum.value == 0.5 || datum.value == 1 ? datum.label : ''"}},
    "order":{"field":"depth","type":"quantitative"}}},
  {"mark":{"type":"point","shape":"M-1,-1L1,1M1,-1L-1,1","size":30,"color":"#000","filled":false,"strokeWidth":1,"opacity":1},
   "encoding":{"x":{"field":"Fi","type":"quantitative","axis":null}}},
  {"transform":[{"filter":"false"}],"mark":{"type":"bar","orient":"horizontal"},
   "encoding":{"x":{"field":"Fi","type":"quantitative","axis":{"orient":"top","title":"F index of C. fottii","titleFontStyle":"normal","values":[0,0.25,0.5,0.75,1]}}}},
  {"data":{"name":"zones"},"mark":{"type":"rule","strokeDash":[4,3],"color":"#333"},"encoding":{}}
 ],
 "resolve":{"axis":{"x":"independent"}}},
{"width":16,"height":378.5,
 "data":{"name":"zones"},
 "mark":{"type":"rule","strokeDash":[4,3],"color":"#333"},
 "encoding":{"y":{"field":"depth","type":"quantitative","title":null,"scale":{"domain":[0,32.8],"reverse":true,"nice":false,"zero":false,"padding":0}}}},
{"width":31,"height":378.5,
 "title":{"text":"Zone","anchor":"middle","frame":"group","fontSize":13,"dx":-12,"dy":5},
 "data":{"name":"zonelabels"},
 "mark":{"type":"text","fontSize":14,"font":"Liberation Sans","color":"#000","dx":-11},
 "encoding":{"y":{"field":"depth","type":"quantitative","title":null,"scale":{"domain":[0,32.8],"reverse":true,"nice":false,"zero":false,"padding":0},"axis":null},
  "text":{"field":"zone","type":"nominal"}}},
{"width":111,"height":378.5,
 "title":{"text":"CONISS","anchor":"middle","frame":"group","fontSize":13,"dy":5},
 "data":{"name":"coniss"},
 "layer":[
  {"mark":{"type":"rule","color":"#222"},
   "encoding":{"x":{"field":"h","type":"quantitative","title":"Total sum of squares","scale":{"domain":[0,6],"range":[0,111]},"axis":{"orient":"bottom","values":[0,1,2,3,4,5,6],"labelExpr":"datum.value > 0 && datum.value % 2 == 0 ? datum.label : ''"}},
    "y":{"field":"p1","type":"quantitative","title":null,"scale":{"domain":[0,32.8],"reverse":true,"nice":false,"zero":false,"padding":0}},
    "y2":{"field":"p2"}}},
  {"mark":{"type":"rule","color":"#222"},
   "encoding":{"x":{"field":"h1","type":"quantitative","axis":null},"x2":{"field":"h"},
    "y":{"field":"p1","type":"quantitative","title":null}}},
  {"mark":{"type":"rule","color":"#222"},
   "encoding":{"x":{"field":"h2","type":"quantitative","axis":null},"x2":{"field":"h"},
    "y":{"field":"p2","type":"quantitative","title":null}}},
  {"transform":[{"filter":"false"}],"mark":{"type":"bar","orient":"horizontal"},
   "encoding":{"x":{"field":"h","type":"quantitative","axis":{"orient":"top","title":null,"values":[0,1,2,3,4,5,6]}},
    "y":{"field":"p1","type":"quantitative","title":null}}}
 ],
 "resolve":{"axis":{"x":"independent"}}}
],
"config":{
 "font":"Liberation Sans",
 "view":{"stroke":null},
 "scale":{"continuousPadding":0},
 "axis":{"grid":false,"domainColor":"#000","tickColor":"#000","labelColor":"#000","titleColor":"#000","labelFontSize":11,"labelFlush":false,"labelOverlap":false,"titleFontWeight":"normal","labelFont":"Liberation Sans","titleFont":"Liberation Sans"},
 "axisTop":{"labels":false,"tickSize":-3,"titleAngle":-45,"titleAlign":"left","titleBaseline":"alphabetic","titleX":4,"titleY":-5,"titleFontSize":14,"titleFontStyle":"italic"},
 "axisBottom":{"tickSize":-3,"labelPadding":9,"labelExpr":"datum.value > 0 && datum.value % 20 == 0 ? datum.label : ''","titleFontSize":11,"titlePadding":2},
 "axisLeft":{"labels":false,"ticks":false},
 "axisRight":{"labels":false,"ticks":false,"domain":false},
 "title":{"font":"Liberation Sans","fontWeight":"normal","color":"#000"}
}
}
